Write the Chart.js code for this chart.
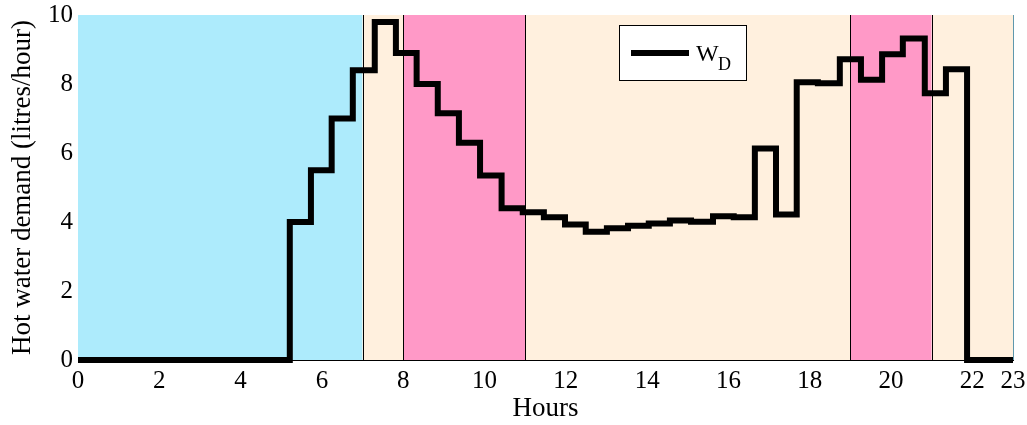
<!DOCTYPE html>
<html>
<head>
<meta charset="utf-8">
<script src="https://cdn.jsdelivr.net/npm/chart.js@4"></script>
<style>
  html, body { margin: 0; padding: 0; background: #fff; }
  #wrap { width: 1027px; height: 425px; }
</style>
</head>
<body>
<div id="wrap"><canvas id="chart" width="1027" height="425"></canvas></div>
<script>
// step start times (hours) and hot water demand held from that time on
const hours = [0, 5.21, 5.73, 6.24, 6.76, 7.30, 7.82, 8.33, 8.85, 9.37, 9.89, 10.42, 10.94,
  11.46, 11.98, 12.49, 13.01, 13.53, 14.04, 14.56, 15.08, 15.62, 16.13, 16.65, 17.17,
  17.68, 18.20, 18.74, 19.26, 19.78, 20.29, 20.83, 21.35, 21.87, 23];
const demand = [0, 4.0, 5.5, 7.0, 8.4, 9.8, 8.9, 8.0, 7.15, 6.3, 5.35, 4.4, 4.28,
  4.14, 3.93, 3.72, 3.82, 3.89, 3.96, 4.04, 4.01, 4.17, 4.14, 6.13, 4.22,
  8.05, 8.02, 8.72, 8.12, 8.86, 9.32, 7.73, 8.43, 0, 0];

// tariff periods shaded behind the curve
const bandStart = [0, 7, 8, 11, 19, 21];
const bandEnd = [7, 8, 11, 19, 21, 23];
const bandKind = ['night', 'shoulder', 'peak', 'shoulder', 'peak', 'shoulder'];
const bandColors = { night: '#adebfc', shoulder: '#fff0de', peak: '#ff99c7' };

const xTicks = [0, 2, 4, 6, 8, 10, 12, 14, 16, 18, 20, 22, 23];

const serif = 'Liberation Serif, Times New Roman, serif';

const bandsPlugin = {
  id: 'bands',
  beforeDatasetsDraw(chart) {
    const { ctx, chartArea, scales: { x } } = chart;
    ctx.save();
    bandStart.forEach((s, i) => {
      const x0 = x.getPixelForValue(s);
      const x1 = x.getPixelForValue(bandEnd[i]);
      ctx.fillStyle = bandColors[bandKind[i]];
      ctx.fillRect(x0, chartArea.top, x1 - x0, chartArea.bottom - chartArea.top);
    });
    // thin edges between periods
    ctx.strokeStyle = '#000';
    ctx.lineWidth = 1;
    bandStart.slice(1).forEach(s => {
      const px = Math.round(x.getPixelForValue(s)) + 0.5;
      ctx.beginPath();
      ctx.moveTo(px, chartArea.top);
      ctx.lineTo(px, chartArea.bottom);
      ctx.stroke();
    });
    const rx = Math.round(chartArea.right) + 0.5;
    ctx.strokeStyle = '#5f98ad';
    ctx.beginPath();
    ctx.moveTo(rx, chartArea.top);
    ctx.lineTo(rx, chartArea.bottom);
    ctx.stroke();
    ctx.restore();
  },
  afterDraw(chart) {
    // legend box with subscript label
    const { ctx, chartArea } = chart;
    const bx = chartArea.left + 541, by = chartArea.top + 10;
    ctx.save();
    ctx.fillStyle = '#fff';
    ctx.fillRect(bx, by, 127, 55);
    ctx.strokeStyle = '#000';
    ctx.lineWidth = 1;
    ctx.strokeRect(bx + 0.5, by + 0.5, 127, 55);
    ctx.lineWidth = 6;
    ctx.beginPath();
    ctx.moveTo(bx + 12, by + 28);
    ctx.lineTo(bx + 70, by + 28);
    ctx.stroke();
    ctx.fillStyle = '#000';
    ctx.textBaseline = 'alphabetic';
    ctx.font = '24px ' + serif;
    ctx.fillText('W', bx + 77, by + 36);
    ctx.font = '18px ' + serif;
    ctx.fillText('D', bx + 99, by + 45);
    ctx.restore();
  }
};

new Chart(document.getElementById('chart'), {
  type: 'line',
  data: {
    datasets: [{
      label: 'WD',
      data: hours.map((h, i) => ({ x: h, y: demand[i] })),
      stepped: true,
      borderColor: '#000',
      borderWidth: 6,
      borderJoinStyle: 'miter',
      borderCapStyle: 'butt',
      pointRadius: 0,
      fill: false,
      clip: false,
    }],
  },
  options: {
    responsive: false,
    animation: false,
    layout: { padding: { top: 0, right: 0, bottom: 0, left: 0 } },
    plugins: {
      legend: { display: false },
      tooltip: { enabled: false },
    },
    scales: {
      x: {
        type: 'linear',
        min: 0,
        max: 23,
        afterBuildTicks: scale => { scale.ticks = xTicks.map(v => ({ value: v })); },
        afterFit: scale => { scale.height = 65; scale.paddingRight = 14; },
        grid: { display: false, drawTicks: false },
        border: { display: true, color: '#000', width: 1 },
        ticks: {
          color: '#000',
          font: { family: serif, size: 25 },
          padding: 6,
          maxRotation: 0,
          autoSkip: false,
        },
        title: {
          display: true,
          text: 'Hours',
          color: '#000',
          font: { family: serif, size: 27 },
          padding: { top: 0, bottom: 0 },
        },
      },
      y: {
        min: 0,
        max: 10,
        afterFit: scale => { scale.width = 78; scale.paddingTop = 15; },
        grid: { display: false, drawTicks: false },
        border: { display: true, color: '#000', width: 1 },
        ticks: {
          stepSize: 2,
          color: '#000',
          font: { family: serif, size: 25 },
          padding: 5,
        },
        title: {
          display: true,
          text: 'Hot water demand (litres/hour)',
          color: '#000',
          font: { family: serif, size: 27 },
          padding: { top: 7, bottom: 0 },
        },
      },
    },
  },
  plugins: [bandsPlugin],
});
</script>
</body>
</html>
